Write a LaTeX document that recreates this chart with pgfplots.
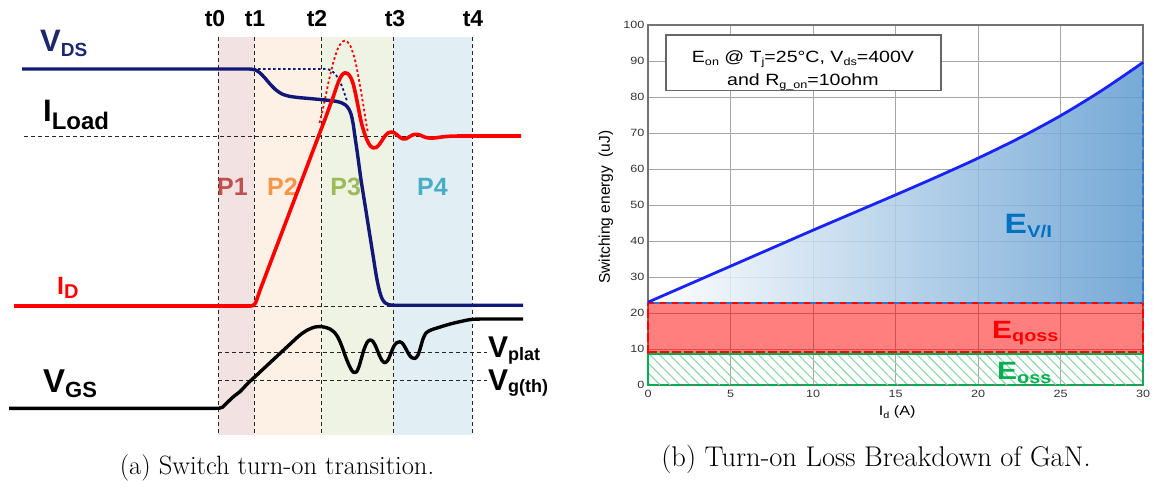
\documentclass[border=0pt]{standalone}
\usepackage{pgfplots}
\pgfplotsset{compat=1.18}
\usepackage{fontspec}
\usetikzlibrary{patterns.meta}
\newfontfamily\arial{Liberation Sans}
\newfontfamily\arialS{Liberation Sans}[FakeStretch=1.2]
\definecolor{navy}{RGB}{18,24,120}
\definecolor{navylab}{RGB}{28,40,110}
\definecolor{shA}{RGB}{243,226,226}
\definecolor{shB}{RGB}{253,240,228}
\definecolor{shC}{RGB}{238,243,228}
\definecolor{shD}{RGB}{225,239,245}
\definecolor{pA}{RGB}{192,80,77}
\definecolor{pB}{RGB}{247,150,70}
\definecolor{pC}{RGB}{155,187,89}
\definecolor{pD}{RGB}{75,172,198}
\definecolor{hatchgreen}{RGB}{140,215,165}
\definecolor{egreen}{RGB}{0,176,80}
\definecolor{eblue}{RGB}{0,112,192}
\definecolor{dblue}{RGB}{46,117,200}
\definecolor{curveblue}{RGB}{25,35,245}
\definecolor{gradblue}{RGB}{95,155,208}
\tikzset{vdash/.style={black!85, line width=0.9pt, dash pattern=on 4pt off 3pt}}
\begin{document}
\begin{tikzpicture}
\useasboundingbox (0,0) rectangle (1158pt,487pt);
% ---------------- left panel (pixel canvas) ----------------
\begin{axis}[at={(0pt,0pt)}, anchor=south west, scale only axis,
  width=1158pt, height=487pt, xmin=0, xmax=1158, ymin=0, ymax=487,
  y dir=reverse, hide axis, clip=false]
% phase shading
\addplot[draw=none, fill=shA] coordinates {(218,37) (254,37) (254,435) (218,435)} -- cycle;
\addplot[draw=none, fill=shB] coordinates {(254,37) (321,37) (321,435) (254,435)} -- cycle;
\addplot[draw=none, fill=shC] coordinates {(321,37) (393,37) (393,435) (321,435)} -- cycle;
\addplot[draw=none, fill=shD] coordinates {(393,37) (472,37) (472,435) (393,435)} -- cycle;
% vertical dashed time markers
\addplot[vdash] coordinates {(218,37) (218,435)};
\addplot[vdash] coordinates {(254,37) (254,435)};
\addplot[vdash] coordinates {(321,37) (321,435)};
\addplot[vdash] coordinates {(393,37) (393,435)};
\addplot[vdash] coordinates {(472,37) (472,433)};
% horizontal dashed references
\addplot[vdash] coordinates {(24,136) (521,136)};
\addplot[vdash] coordinates {(254,306) (396,306)};
\addplot[vdash] coordinates {(218,352.5) (487,352.5)};
\addplot[vdash] coordinates {(218,380.5) (487,380.5)};
% phase labels
\node[font=\arial\bfseries\fontsize{25}{25}\selectfont, text=pA, anchor=base] at (axis cs:232.5,195) {P1};
\node[font=\arial\bfseries\fontsize{25}{25}\selectfont, text=pB, anchor=base] at (axis cs:282.5,195) {P2};
\node[font=\arial\bfseries\fontsize{25}{25}\selectfont, text=pC, anchor=base] at (axis cs:345.7,195) {P3};
\node[font=\arial\bfseries\fontsize{25}{25}\selectfont, text=pD, anchor=base] at (axis cs:432.5,195) {P4};
% time labels
\node[font=\arial\bfseries\fontsize{23}{23}\selectfont, anchor=base] at (axis cs:215,26.7) {t0};
\node[font=\arial\bfseries\fontsize{23}{23}\selectfont, anchor=base] at (axis cs:255,26.7) {t1};
\node[font=\arial\bfseries\fontsize{23}{23}\selectfont, anchor=base] at (axis cs:317,26.7) {t2};
\node[font=\arial\bfseries\fontsize{23}{23}\selectfont, anchor=base] at (axis cs:395,26.7) {t3};
\node[font=\arial\bfseries\fontsize{23}{23}\selectfont, anchor=base] at (axis cs:473,26.7) {t4};
% dotted ideal curves
\addplot[navy, line width=1.8pt, dash pattern=on 2.5pt off 2.5pt, smooth, tension=0.5] coordinates {
 (253,69) (290,69) (315,69) (326,69) (331,70.5) (336,75) (341,84) (344,92) (347,101)};
\addplot[red, line width=1.8pt, dash pattern=on 2.5pt off 2.5pt, smooth, tension=0.5] coordinates {
 (319.5,123) (324,104) (329,80) (334,60) (339,46) (344.6,40.7) (350,45) (355,60) (359,80) (363,103) (366,122) (368,133)};
% V_DS
\addplot[navy, line width=3.4pt, smooth, tension=0.5, line join=round] coordinates {
 (22,69) (130,69) (190,69) (222,69) (238,69) (246,69) (251,69.1) (255,69.8) (259.5,72.5)
 (264.5,77.5) (270,84) (276,90) (282,94) (289,96.2) (298,97.5) (308,98.4) (320,99.5)
 (330,100.5) (337,101.5) (342,103) (345.5,105) (348.5,108.5) (351,114) (353,123)
 (355,137) (357.5,154) (361,179.6) (365,204.8) (369,230) (373,255.2) (376.5,277)
 (379.5,291) (382,298.5) (385,302.8) (388.5,304.6) (393,305.2) (398,305.2) (406,305.2)
 (420,305.2) (445,305.2) (480,305.2) (523,305.2)};
% I_D
\addplot[red, line width=3.6pt, smooth, tension=0.5, line join=round] coordinates {
 (14,306) (120,306) (180,306) (215,306) (233,306) (242,306) (247,306) (250.5,306)
 (253,305.5) (255.3,303.3) (257.5,297.5) (260,290.2) (264,279.7) (270,263.8) (278,242.8)
 (287,219.1) (296,195.4) (305,171.8) (313,150.7) (320,132.3) (326,116.5) (330,105.5)
 (333,97.5) (336,88.5) (339,80.5) (342,75) (345,72.8) (348,73.8) (351,78) (353.5,85)
 (356,96) (358.5,108.5) (361,121) (364,132) (367,140) (370,145.5) (373,147.8) (376,147.6)
 (379,144.8) (382,140.5) (385,136) (388,133) (391,132) (394,132.6) (397,134.8) (400,137.4)
 (403,138.9) (406,138.8) (409,137) (412,135.2) (415,134.3) (418,134.4) (421,135.5)
 (425,137.2) (430,138.1) (436,137.8) (443,136.8) (451,136.2) (461,136) (475,136) (495,136) (521,136)};
% V_GS
\addplot[black, line width=3.4pt, smooth, tension=0.5, line join=round] coordinates {
 (9,408.3) (100,408.3) (160,408.3) (195,408.3) (210,408.3) (216,408.3) (219.5,408.2)
 (222.5,407.2) (226,403.65) (229.5,400.4) (234,396.2) (240,391.6) (248,383.2) (256,375.75)
 (264,368.3) (274,359) (284,349.7) (292,342.3) (298,336.7) (303,332.8) (307.5,330)
 (311.5,328.2) (315,327) (318.5,326.6) (322,326.7) (326,327.5) (330,329) (333.5,331.5)
 (336.5,335) (339.5,340.5) (342.5,348) (345.5,356.5) (348.5,364) (351.5,370) (354,372.5)
 (356.5,372) (359,366.5) (361.5,358) (364,349.5) (367,342.5) (370,340) (373,341.5)
 (376,347) (379,354.5) (382,360.5) (385,362.7) (388,360) (391,353) (394,346) (397,342.5)
 (400,341.8) (403,344) (406,349) (409,354.5) (412,357.8) (415,358.5) (418,355) (420.5,347.5)
 (423,339) (426,333) (431,330) (437,328) (445,325.5) (454,323) (463,321) (470,319.6)
 (477,319.1) (487,319) (500,319) (523,319)};
% signal labels
\node[anchor=base west, inner sep=0pt, text=navylab, font=\arial\bfseries] at (axis cs:40,52)
  {\fontsize{31}{31}\selectfont V\raisebox{-4.5pt}{\fontsize{19}{19}\selectfont DS}};
\node[anchor=base west, inner sep=0pt, font=\arial\bfseries] at (axis cs:43,121.7)
  {\fontsize{31}{31}\selectfont I\raisebox{-8pt}{\fontsize{24}{24}\selectfont Load}};
\node[anchor=base west, inner sep=0pt, text=red, font=\arial\bfseries] at (axis cs:57,294)
  {\fontsize{25}{25}\selectfont I\raisebox{-4pt}{\fontsize{20}{20}\selectfont D}};
\node[anchor=base west, inner sep=0pt, font=\arial\bfseries] at (axis cs:43,392)
  {\fontsize{33}{33}\selectfont V\raisebox{-5pt}{\fontsize{22}{22}\selectfont GS}};
\node[anchor=base west, inner sep=0pt, font=\arial\bfseries] at (axis cs:488,357)
  {\fontsize{30}{30}\selectfont V\raisebox{-3pt}{\fontsize{18}{18}\selectfont plat}};
\node[anchor=base west, inner sep=0pt, font=\arial\bfseries] at (axis cs:488,390)
  {\fontsize{30}{30}\selectfont V\raisebox{-2pt}{\fontsize{18}{18}\selectfont g(th)}};
% captions
\node[anchor=base, inner sep=0pt, font=\fontsize{26.5}{26.5}\selectfont] at (axis cs:277,474.5) {(a) Switch turn-on transition.};
\node[anchor=base, inner sep=0pt, font=\fontsize{28.5}{28.5}\selectfont] at (axis cs:876,466) {(b) Turn-on Loss Breakdown of GaN.};
\end{axis}
% ---------------- right panel ----------------
\begin{axis}[at={(648pt,102pt)}, anchor=south west, scale only axis,
  width=495pt, height=360pt, xmin=0, xmax=30, ymin=0, ymax=100,
  xtick={0,5,...,30}, ytick={0,10,...,100},
  grid=major, grid style={black!35, line width=0.9pt},
  axis line style={black!55, line width=1.1pt},
  major tick length=0pt, clip=false,
  /pgf/number format/assume math mode=true,
  tick label style={font=\arialS\fontsize{10.5}{11}\selectfont, text=black!80},
  xticklabel style={yshift=-2pt}]
\addplot[draw=none, pattern={Lines[angle=-45, distance=7pt, line width=1.1pt]}, pattern color=hatchgreen]
  coordinates {(0,0) (30,0) (30,8.5) (0,8.5)} -- cycle;
\addplot[draw=none, fill=red, fill opacity=0.5]
  coordinates {(0,8.5) (30,8.5) (30,22.7) (0,22.7)} -- cycle;
\addplot[draw=none, left color=white, right color=gradblue, fill opacity=0.85]
  coordinates {(0,22.7) (0,23) (2.5,28) (5,33) (7.5,38) (10,43) (12.5,47.9) (15,52.8)
  (17.5,57.8) (20,63.0) (22.5,68.6) (25,74.8) (27.5,81.8) (30,89.6) (30,22.7)} -- cycle;
% borders
\addplot[egreen, line width=1.8pt, dash pattern=on 9pt off 3pt] coordinates {(0,0) (30,0)};
\addplot[egreen, line width=1.8pt] coordinates {(0,0) (0,8.5) (30,8.5)};
\addplot[egreen, line width=1.8pt, dash pattern=on 9pt off 3pt] coordinates {(30,8.5) (30,0)};
\addplot[red, line width=1.8pt, dash pattern=on 9pt off 3pt] coordinates {(0,8.5) (0,22.7)};
\addplot[red, line width=1.8pt, dash pattern=on 9pt off 3pt] coordinates {(0,9.2) (30,9.2)};
\addplot[red, line width=1.8pt, dash pattern=on 9pt off 3pt] coordinates {(30,8.5) (30,22.7)};
\addplot[red, line width=1.8pt, dash pattern=on 6pt off 6pt] coordinates {(0,22.7) (30,22.7)};
\addplot[dblue, line width=1.8pt, dash pattern=on 6pt off 6pt, dash phase=6pt] coordinates {(0,22.7) (30,22.7)};
\addplot[dblue, line width=1.8pt, dash pattern=on 9pt off 3pt] coordinates {(30,22.7) (30,89.6)};
% total curve
\addplot[curveblue, line width=2.8pt, smooth] coordinates {(0,23) (2.5,28) (5,33) (7.5,38) (10,43)
  (12.5,47.9) (15,52.8) (17.5,57.8) (20,63.0) (22.5,68.6) (25,74.8) (27.5,81.8) (30,89.6)};
% annotation box
\draw[black!60, line width=1.2pt, fill=white] (axis cs:1.09,97.2) rectangle (axis cs:17.76,81.9);
\node[font=\arialS\fontsize{16.3}{16.3}\selectfont, anchor=base] at (axis cs:9.39,89.5)
  {E\raisebox{-3pt}{\fontsize{10.5}{10.5}\selectfont on} @ T\raisebox{-3pt}{\fontsize{10.5}{10.5}\selectfont j}=25°C, V\raisebox{-3pt}{\fontsize{10.5}{10.5}\selectfont ds}=400V};
\node[font=\arialS\fontsize{16.3}{16.3}\selectfont, anchor=base] at (axis cs:9.39,83.1)
  {and R\raisebox{-3pt}{\fontsize{10.5}{10.5}\selectfont g\_on}=10ohm};
% region labels
\node[anchor=base west, inner sep=0pt, text=eblue, font=\arialS\bfseries] at (axis cs:21.6,42.2)
  {\fontsize{28}{28}\selectfont E\raisebox{-4pt}{\fontsize{17}{17}\selectfont V/I}};
\node[anchor=base west, inner sep=0pt, text=red, font=\arialS\bfseries] at (axis cs:20.85,13.0)
  {\fontsize{25}{25}\selectfont E\raisebox{-3.5pt}{\fontsize{16.5}{16.5}\selectfont qoss}};
\node[anchor=base west, inner sep=0pt, text=egreen, font=\arialS\bfseries] at (axis cs:21.15,1.4)
  {\fontsize{25}{25}\selectfont E\raisebox{-4pt}{\fontsize{16.5}{16.5}\selectfont oss}};
% axis labels
\node[rotate=90, font=\arial\fontsize{15.5}{15.5}\selectfont] at (axis cs:-2.55,49.4) {Switching energy\ \ (uJ)};
\node[font=\arialS\fontsize{13.5}{13.5}\selectfont] at (axis cs:15.1,-7.5)
  {I\raisebox{-3pt}{\fontsize{9}{9}\selectfont d} (A)};
\end{axis}
\end{tikzpicture}
\end{document}
